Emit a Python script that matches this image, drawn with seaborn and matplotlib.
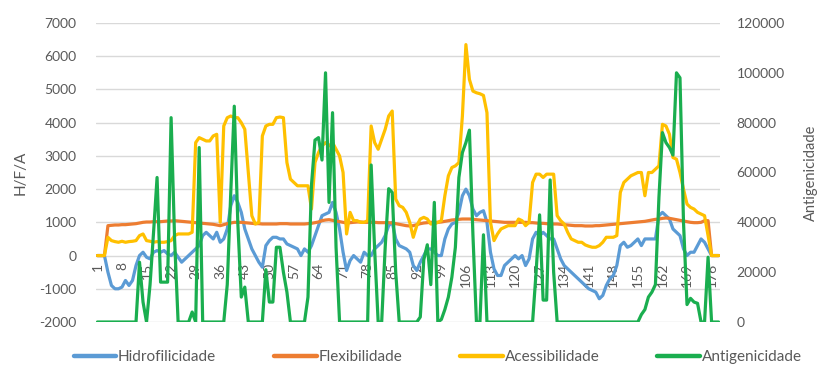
import matplotlib
matplotlib.use("Agg")
import matplotlib.pyplot as plt
import pandas as pd
import seaborn as sns
from matplotlib.lines import Line2D

sns.set_theme(style="white")
plt.rcParams["font.family"] = ["Lato", "DejaVu Sans"]

# Residue positions along the protein
residues = list(range(1, 179))

hidrofilicidade = [
    0, 0, 0, -500, -900, -1000, -1000, -950, -750, -900,
    -750, -300, 0, 100, -50, -100, 100, 150, 100, 150,
    50, 0, 100, -50, -200, -100, 0, 100, 200, 300,
    600, 700, 600, 500, 700, 400, 500, 800, 1500, 1800,
    1600, 1300, 800, 500, 200, 0, -200, -350, 300, 450,
    550, 550, 500, 500, 350, 300, 250, 200, 0, 200,
    100, 300, 600, 900, 1200, 1250, 1300, 1600, 1300, 800,
    100, -450, -150, 0, -100, -200, 100, 0, 0, 200,
    300, 400, 600, 900, 1000, 500, 300, 250, 200, 100,
    -300, -450, -200, 0, 200, 200, 100, 0, 0, 500,
    800, 950, 1000, 1300, 1800, 2000, 1800, 1400, 1200, 1300,
    1350, 1000, 100, -400, -600, -600, -300, -200, -100, 0,
    -100, 0, -300, -100, 500, 700, 600, 700, 600, 500,
    500, 200, -100, -300, -400, -500, -600, -700, -800, -900,
    -1000, -1050, -1100, -1300, -1200, -900, -700, -600, -300, 300,
    400, 250, 300, 400, 500, 300, 500, 500, 500, 500,
    1200, 1300, 1200, 1100, 800, 700, 600, 200, 0, 100,
    100, 300, 500, 400, 200, 0, 0, 0,
]

flexibilidade = [
    0, 0, 0, 900, 910, 920, 920, 930, 930, 940,
    950, 960, 980, 1000, 1010, 1010, 1020, 1020, 1020, 1030,
    1040, 1040, 1050, 1040, 1030, 1020, 1010, 1000, 990, 980,
    970, 960, 950, 940, 920, 900, 930, 960, 980, 1000,
    1000, 1000, 990, 980, 970, 960, 960, 950, 950, 950,
    950, 950, 960, 960, 960, 950, 950, 950, 950, 950,
    960, 970, 990, 1010, 1050, 1070, 1080, 1060, 1040, 1020,
    1000, 980, 990, 1000, 1010, 1010, 1000, 1000, 1000, 1000,
    990, 990, 990, 990, 980, 960, 940, 920, 900, 890,
    900, 930, 960, 980, 990, 1000, 1000, 1000, 1010, 1030,
    1050, 1070, 1080, 1090, 1100, 1100, 1100, 1090, 1080, 1070,
    1060, 1050, 1040, 1030, 1020, 1010, 1000, 1000, 1000, 1000,
    1000, 1000, 1000, 990, 990, 980, 970, 970, 960, 950,
    950, 950, 940, 930, 920, 910, 900, 900, 900, 890,
    890, 890, 900, 900, 910, 920, 930, 940, 950, 960,
    970, 980, 990, 1000, 1010, 1020, 1030, 1050, 1070, 1090,
    1100, 1120, 1130, 1120, 1100, 1080, 1060, 1040, 1020, 1000,
    990, 990, 1000, 1050, 1050, 0, 0, 0,
]

acessibilidade = [
    0, 0, 0, 550, 450, 420, 400, 430, 400, 420,
    430, 450, 600, 650, 450, 430, 400, 420, 400, 400,
    420, 450, 600, 650, 650, 650, 650, 700, 3400, 3550,
    3500, 3450, 3450, 3600, 3650, 1000, 3900, 4150, 4200, 4150,
    4150, 4000, 3800, 2500, 1200, 950, 1000, 3600, 3900, 3950,
    3950, 4150, 4170, 4150, 2800, 2300, 2200, 2100, 2100, 2100,
    2100, 1400, 2800, 3100, 3300, 3400, 3300, 3400, 3200, 3000,
    2500, 650, 1300, 1050, 1050, 1000, 1000, 1050, 3900, 3400,
    3200, 3500, 3800, 4200, 4350, 1700, 1500, 1450, 1300, 1000,
    550, 900, 1100, 1150, 1100, 950, 950, 1000, 1050, 1800,
    2400, 2650, 2700, 2800, 4200, 6350, 5300, 4950, 4900, 4870,
    4820, 4300, 1000, 450, 650, 800, 850, 900, 900, 900,
    1100, 1050, 900, 1000, 2200, 2450, 2450, 2350, 2450, 2450,
    2450, 1200, 1050, 950, 700, 500, 450, 400, 400, 320,
    280, 250, 250, 300, 400, 550, 550, 550, 600, 1900,
    2200, 2300, 2400, 2450, 2500, 2500, 1800, 2500, 2500, 2600,
    2700, 3950, 3900, 3650, 2950, 2900, 2500, 2000, 1550, 1450,
    1400, 1300, 1250, 1200, 600, 0, 0, 0,
]

antigenicidade = [
    0, 0, 0, 0, 0, 0, 0, 0, 0, 0,
    0, 0, 24000, 8000, 0, 15000, 36000, 58000, 16000, 16000,
    16000, 82000, 33000, 0, 0, 0, 0, 4000, 0, 70000,
    0, 0, 0, 0, 0, 0, 0, 15000, 52000, 86600,
    40000, 10000, 14000, 0, 0, 0, 0, 0, 21000, 8000,
    8000, 30000, 30000, 20000, 12000, 0, 0, 0, 0, 0,
    10000, 55000, 73000, 74000, 65000, 100000, 48000, 84000, 30000, 0,
    0, 0, 0, 0, 0, 0, 0, 0, 63000, 29000,
    0, 0, 30000, 53500, 52000, 20000, 0, 0, 0, 0,
    0, 0, 2000, 25000, 31000, 15000, 48000, 0, 1000, 5000,
    10000, 18000, 30000, 58000, 68000, 72000, 77000, 35000, 0, 0,
    35000, 0, 0, 0, 0, 0, 0, 0, 0, 0,
    0, 0, 0, 0, 0, 20000, 43000, 8800, 8800, 57000,
    20000, 0, 0, 0, 0, 0, 0, 0, 0, 0,
    0, 0, 0, 0, 0, 0, 0, 0, 0, 0,
    0, 0, 0, 0, 0, 3000, 5000, 10000, 12000, 15000,
    50000, 76000, 72000, 70000, 67000, 100000, 98000, 40000, 7000, 9500,
    8000, 7500, 0, 0, 26000, 0, 0, 0,
]

x_ticks = list(range(1, 179, 7))
left_ticks = list(range(-2000, 7001, 1000))
right_ticks = list(range(0, 120001, 20000))

palette = {
    "Hidrofilicidade": "#5B9BD5",
    "Flexibilidade": "#ED7D31",
    "Acessibilidade": "#FFC000",
    "Antigenicidade": "#1AAE4F",
}
primary_order = ["Hidrofilicidade", "Flexibilidade", "Acessibilidade"]

primary = pd.DataFrame({
    "Resíduo": residues,
    "Hidrofilicidade": hidrofilicidade,
    "Flexibilidade": flexibilidade,
    "Acessibilidade": acessibilidade,
}).melt(id_vars="Resíduo", var_name="Série", value_name="Valor")

secondary = pd.DataFrame({"Resíduo": residues, "Antigenicidade": antigenicidade})

text_color = "#595959"
lw = 2.3

fig = plt.figure(figsize=(8.21, 3.70), dpi=100)
ax = fig.add_axes([96 / 821, 48 / 370, 624 / 821, 299 / 370])

sns.lineplot(data=primary, x="Resíduo", y="Valor", hue="Série",
             hue_order=primary_order, palette=palette, linewidth=lw,
             estimator=None, legend=False, ax=ax)

ax2 = ax.twinx()
sns.lineplot(data=secondary, x="Resíduo", y="Antigenicidade",
             color=palette["Antigenicidade"], linewidth=lw,
             estimator=None, legend=False, ax=ax2)

ax.set_xlim(0.6, 178.4)
ax.set_ylim(-2000, 7000)
ax2.set_ylim(0, 120000)

# category axis crosses the value axis at zero
ax.spines["bottom"].set_position(("data", 0))
for a in (ax, ax2):
    for s in a.spines.values():
        s.set_visible(False)

ax.set_yticks(left_ticks)
ax.set_yticklabels([str(t) for t in left_ticks])
ax2.set_yticks(right_ticks)
ax2.set_yticklabels([str(t) for t in right_ticks])
ax.set_xticks(x_ticks)
ax.set_xticklabels([str(t) for t in x_ticks])

ax.yaxis.grid(True, color="#D9D9D9", linewidth=1.0)
ax.xaxis.grid(False)
ax2.grid(False)

ax.tick_params(axis="x", length=0, pad=5, labelsize=10, labelcolor=text_color,
               labelrotation=90)
ax.tick_params(axis="y", length=0, pad=14, labelsize=10, labelcolor=text_color)
ax2.tick_params(axis="y", length=0, pad=12, labelsize=10, labelcolor=text_color)

ax.set_xlabel("")
ax.set_ylabel("H/F/A", fontsize=11, color=text_color)
ax2.set_ylabel("Antigenicidade", fontsize=10.5, color=text_color)
ax.yaxis.set_label_coords(-0.11, 0.5)
ax2.yaxis.set_label_coords(1.135, 0.5)

handles = [Line2D([0], [0], color=palette[k], linewidth=3.2, solid_capstyle="round")
           for k in ["Hidrofilicidade", "Flexibilidade", "Acessibilidade", "Antigenicidade"]]
labels = ["Hidrofilicidade", "Flexibilidade", "Acessibilidade", "Antigenicidade"]
leg = fig.legend(handles, labels, loc="center", bbox_to_anchor=(0.533, 0.035),
                 ncol=4, frameon=False, fontsize=11, handlelength=2.8,
                 handletextpad=0.1, columnspacing=3.8)
for t in leg.get_texts():
    t.set_color(text_color)

fig.savefig("out.png", dpi=100)
